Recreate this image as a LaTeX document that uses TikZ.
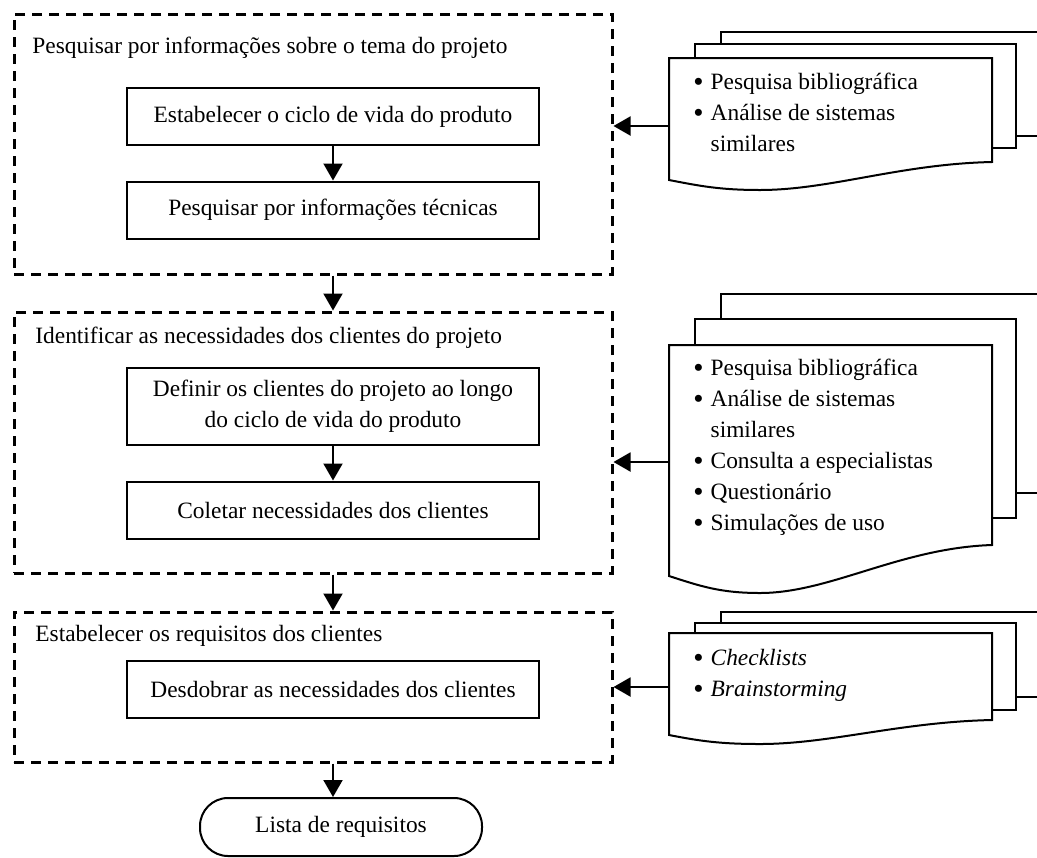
\documentclass[tikz,border=0pt]{standalone}
\usepackage{fontspec}
\setmainfont{Liberation Serif}
\usetikzlibrary{arrows.meta,positioning}

\newcommand{\bul}{\raisebox{-0.08em}{\scalebox{1.25}{\textbullet}}\hspace{0.3em}}

\tikzset{
  grpbox/.style={draw, line width=1.5pt, dash pattern=on 5pt off 3.5pt, inner sep=0pt},
  taskbox/.style={draw, line width=1pt, minimum width=206pt, minimum height=28.5pt, align=center, inner sep=0pt},
  grptitle/.style={anchor=west, inner sep=0pt},
  doctext/.style={anchor=north west, align=left, inner sep=0pt},
  page/.style={draw, line width=1pt, fill=white},
  arr/.style={line width=1pt, -{Triangle[length=8.5pt,width=9.5pt]}},
}

\begin{document}
\begin{tikzpicture}[x=0.5pt, y=-0.5pt, font=\fontsize{11.7}{15.5}\selectfont]
\useasboundingbox (0,0) rectangle (1037,857);
\clip (0,0) rectangle (1037,857);

% grupos
\node[grpbox, minimum width=299pt, minimum height=130pt] (grpA) at (313,144) {};
\node[grpbox, minimum width=299pt, minimum height=130.5pt] (grpB) at (313,442.5) {};
\node[grpbox, minimum width=299pt, minimum height=75pt] (grpC) at (313,687) {};

\node[grptitle] (titleA) at (32,48) {Pesquisar por informações sobre o tema do projeto};
\node[grptitle] (titleB) at (35,338) {Identificar as necessidades dos clientes do projeto};
\node[grptitle] (titleC) at (35,636) {Estabelecer os requisitos dos clientes};

% atividades
\node[taskbox] (taskA) at (333,116.5) {Estabelecer o ciclo de vida do produto};
\node[taskbox] (taskB) at (333,210) {Pesquisar por informações técnicas};
\node[taskbox, minimum height=38.5pt] (taskC) at (333,406.5) {Definir os clientes do projeto ao longo\\do ciclo de vida do produto};
\node[taskbox] (taskD) at (333,510) {Coletar necessidades dos clientes};
\node[taskbox] (taskE) at (333,689) {Desdobrar as necessidades dos clientes};

\node[draw, line width=1pt, rounded corners=14pt, minimum width=141pt, minimum height=29pt, inner sep=0pt] (lista) at (341,827) {Lista de requisitos};

\draw[arr] (taskA) -- (taskB);
\draw[arr] (taskC) -- (taskD);
\draw[arr] (taskB |- grpA.south) -- (taskB |- grpB.north);
\draw[arr] (taskD |- grpB.south) -- (taskD |- grpC.north);
\draw[arr] (taskE |- grpC.south) -- (taskE |- lista.north);

% documentos
\draw[page] (721,32) rectangle (1045,136);
\draw[page] (695,44) rectangle (1016,148);
\draw[page] (669,58) -- (992,58) -- (992,162) .. controls (900,164) and (830,190) .. (760,190) .. controls (720,190) and (700,186) .. (669,180) -- cycle;
\node[doctext] (srcA) at (693,73) {\bul Pesquisa bibliográfica\\\bul Análise de sistemas\\\phantom{\bul}similares};
\coordinate (docA) at (669,126);
\draw[arr] (docA) -- (docA -| grpA.east);

\draw[page] (721,294) rectangle (1045,493);
\draw[page] (695,319) rectangle (1016,518);
\draw[page] (669,345) -- (992,345) -- (992,545) .. controls (900,548) and (830,593) .. (760,593) .. controls (720,593) and (700,586) .. (669,576) -- cycle;
\node[doctext] (srcB) at (693,359) {\bul Pesquisa bibliográfica\\\bul Análise de sistemas\\\phantom{\bul}similares\\\bul Consulta a especialistas\\\bul Questionário\\\bul Simulações de uso};
\coordinate (docB) at (669,462);
\draw[arr] (docB) -- (docB -| grpB.east);

\draw[page] (721,612) rectangle (1045,697);
\draw[page] (695,623) rectangle (1016,710);
\draw[page] (669,633) -- (992,633) -- (992,720) .. controls (900,722) and (830,744) .. (760,744) .. controls (720,744) and (700,741) .. (669,735) -- cycle;
\node[doctext] (srcC) at (693,649) {\bul \textit{Checklists}\\\bul \textit{Brainstorming}};
\coordinate (docC) at (669,687);
\draw[arr] (docC) -- (docC -| grpC.east);
\end{tikzpicture}
\end{document}
